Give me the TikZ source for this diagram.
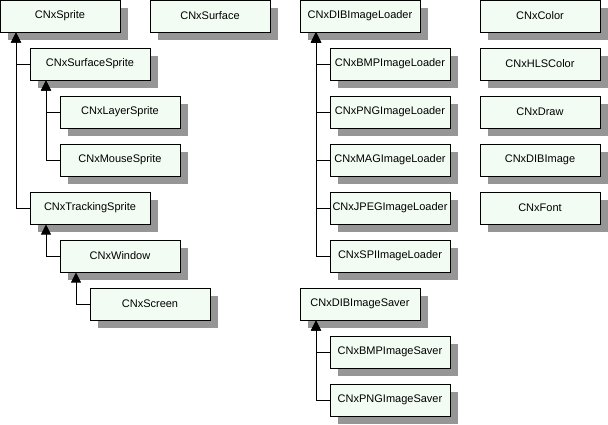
\documentclass[tikz,border=0pt]{standalone}
\usepackage{fontspec}
\setmainfont{Liberation Sans}
\usetikzlibrary{arrows.meta,shadows}
\definecolor{boxfill}{RGB}{242,252,242}
\definecolor{shadowgray}{RGB}{150,150,150}
\begin{document}
\begin{tikzpicture}[x=1pt,y=-1pt,
  cls/.style={draw=black, line width=1pt, fill=boxfill, minimum width=120pt, minimum height=32pt, inner sep=0pt,
    font=\fontsize{11}{13}\selectfont,
    drop shadow={shadow xshift=8pt, shadow yshift=-8pt, fill=shadowgray, opacity=1, draw=none}},
  inh/.style={draw=black, line width=1pt, {Triangle[width=10pt,length=10pt]}-}]
\useasboundingbox (0,0) rectangle (608,424);
% left tree
\node[cls] (sprite) at (60,16) {CNxSprite};
\node[cls] (surface) at (210,16) {CNxSurface};
\node[cls] (surfsprite) at (90,64) {CNxSurfaceSprite};
\node[cls] (layer) at (120,112) {CNxLayerSprite};
\node[cls] (mouse) at (120,160) {CNxMouseSprite};
\node[cls] (tracking) at (90,208) {CNxTrackingSprite};
\node[cls] (window) at (120,256) {CNxWindow};
\node[cls] (screen) at (150,304) {CNxScreen};
% loaders
\node[cls] (dibloader) at (360,16) {CNxDIBImageLoader};
\node[cls] (bmpl) at (390,64) {CNxBMPImageLoader};
\node[cls] (pngl) at (390,112) {CNxPNGImageLoader};
\node[cls] (magl) at (390,160) {CNxMAGImageLoader};
\node[cls] (jpegl) at (390,208) {CNxJPEGImageLoader};
\node[cls] (spil) at (390,256) {CNxSPIImageLoader};
% savers
\node[cls] (dibsaver) at (360,304) {CNxDIBImageSaver};
\node[cls] (bmps) at (390,352) {CNxBMPImageSaver};
\node[cls] (pngs) at (390,400) {CNxPNGImageSaver};
% utilities
\node[cls] (color) at (540,16) {CNxColor};
\node[cls] (hls) at (540,64) {CNxHLSColor};
\node[cls] (drawc) at (540,112) {CNxDraw};
\node[cls] (dibimage) at (540,160) {CNxDIBImage};
\node[cls] (font) at (540,208) {CNxFont};
% trunks
\coordinate (t1) at (16,0);
\coordinate (t2) at (46,0);
\coordinate (t3) at (76,0);
\coordinate (t4) at (316,0);
% connectors
\draw[inh] (sprite.south -| t1) |- (surfsprite.west);
\draw[inh] (sprite.south -| t1) |- (tracking.west);
\draw[inh] (surfsprite.south -| t2) |- (layer.west);
\draw[inh] (surfsprite.south -| t2) |- (mouse.west);
\draw[inh] (tracking.south -| t2) |- (window.west);
\draw[inh] (window.south -| t3) |- (screen.west);
\draw[inh] (dibloader.south -| t4) |- (bmpl.west);
\draw[inh] (dibloader.south -| t4) |- (pngl.west);
\draw[inh] (dibloader.south -| t4) |- (magl.west);
\draw[inh] (dibloader.south -| t4) |- (jpegl.west);
\draw[inh] (dibloader.south -| t4) |- (spil.west);
\draw[inh] (dibsaver.south -| t4) |- (bmps.west);
\draw[inh] (dibsaver.south -| t4) |- (pngs.west);
\end{tikzpicture}
\end{document}
